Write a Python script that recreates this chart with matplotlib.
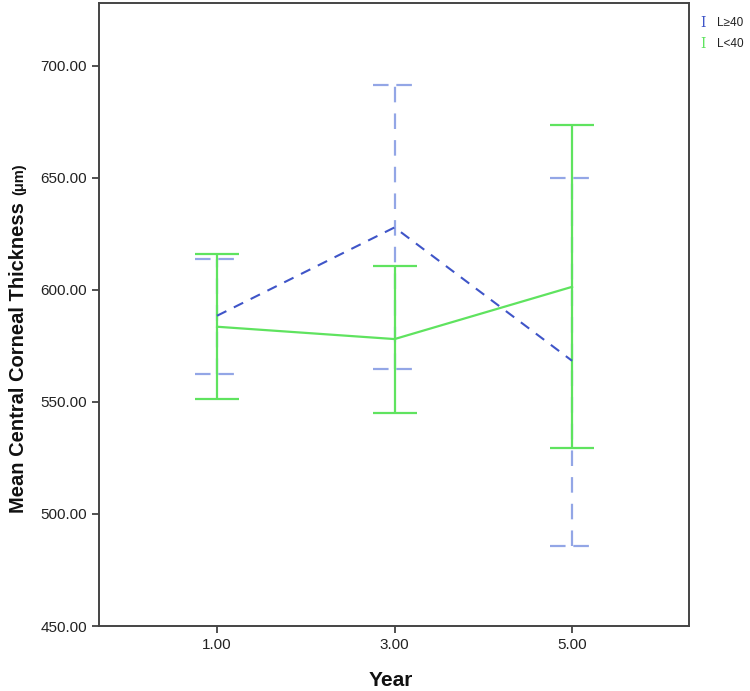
import matplotlib
matplotlib.use("Agg")
import matplotlib.pyplot as plt

years = ["1.00", "3.00", "5.00"]
# L>=40 group
hi_mean = [588.4, 627.8, 568.3]
hi_low = [562.4, 564.6, 485.7]
hi_up = [613.7, 691.1, 649.7]
# L<40 group
lo_mean = [583.5, 578.0, 601.3]
lo_low = [551.2, 545.2, 529.6]
lo_up = [615.9, 610.6, 673.5]

plt.rcParams['font.family'] = ['Liberation Sans', 'DejaVu Sans']

blue_line = "#3f55c8"
blue_err = "#93a6e6"
green = "#5fe35f"

fig = plt.figure(figsize=(7.5, 6.91), dpi=100)
ax = fig.add_axes([0.132, 0.094, 0.787, 0.902])

x = list(range(len(years)))
cw = 0.124

# L>=40 error bars (dashed light blue)
for i in x:
    ax.plot([i, i], [hi_low[i], hi_up[i]], color=blue_err, linewidth=1.6,
            dashes=(7, 5), zorder=2)
    for yv in (hi_low[i], hi_up[i]):
        ax.plot([i - cw, i + cw], [yv, yv], color=blue_err, linewidth=1.6,
                dashes=(7, 3.5), zorder=2)

# L<40 error bars (solid green)
ax.vlines(x, lo_low, lo_up, colors=green, linewidth=1.6, zorder=3)
ax.hlines(lo_low, [i - cw for i in x], [i + cw for i in x], colors=green, linewidth=1.6, zorder=3)
ax.hlines(lo_up, [i - cw for i in x], [i + cw for i in x], colors=green, linewidth=1.6, zorder=3)
ax.plot(x, lo_mean, color=green, linewidth=1.6, zorder=4)

ax.plot(x, hi_mean, color=blue_line, linewidth=1.5, dashes=(5, 4), zorder=5)

ax.set_xlim(-0.665, 2.66)
ax.set_ylim(450, 728)
ax.set_xticks(x)
ax.set_xticklabels(years)
ax.set_yticks([450, 500, 550, 600, 650, 700])
ax.set_yticklabels(["450.00", "500.00", "550.00", "600.00", "650.00", "700.00"])
ax.tick_params(axis='both', labelsize=11, length=5, width=1.2, color="#333333",
               labelcolor="#222222")
for s in ax.spines.values():
    s.set_color("#444444")
    s.set_linewidth(1.4)

# axis titles
fig.text(0.521, (691 - 680) / 691, "Year", fontsize=15, fontweight='bold',
         ha='center', va='center', color="#111111")
fig.text(19 / 750, (691 - 358) / 691, "Mean Central Corneal Thickness",
         fontsize=14.5, fontweight='bold', rotation=90, ha='center', va='center',
         color="#111111")
fig.text(19 / 750, (691 - 179) / 691, "(μm)", fontsize=10.5, fontweight='bold',
         rotation=90, ha='center', va='center', color="#111111")

# legend outside on the right
fig.text(0.937, 0.967, "I", color=blue_line, fontsize=10, family='DejaVu Serif',
         ha='center', va='center')
fig.text(0.956, 0.967, "L≥40", color="#222222", fontsize=8.5, ha='left', va='center')
fig.text(0.937, 0.937, "I", color=green, fontsize=10, family='DejaVu Serif',
         ha='center', va='center')
fig.text(0.956, 0.937, "L<40", color="#222222", fontsize=8.5, ha='left', va='center')

fig.savefig("out.png", dpi=100)
